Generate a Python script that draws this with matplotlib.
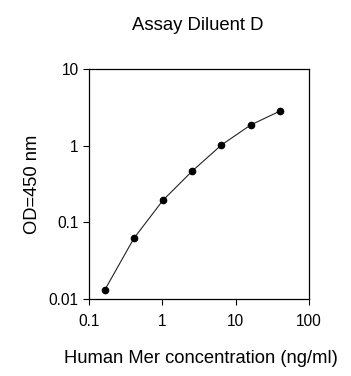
import matplotlib.pyplot as plt
from matplotlib.ticker import FixedLocator, NullLocator, FixedFormatter

plt.rcParams['font.family'] = ['Liberation Sans', 'DejaVu Sans']

conc = [0.164, 0.41, 1.024, 2.56, 6.4, 16, 40]
od = [0.0131, 0.062, 0.195, 0.467, 1.02, 1.86, 2.82]

x_ticks = [0.1, 1, 10, 100]
x_labels = ['0.1', '1', '10', '100']
y_ticks = [0.01, 0.1, 1, 10]
y_labels = ['0.01', '0.1', '1', '10']

fig = plt.figure(figsize=(3.51, 3.76), dpi=100)
ax = fig.add_axes([89/351, 1 - 299/376, 220/351, 230/376])

ax.plot(conc, od, color='#222222', lw=0.8, marker='o', ms=4.5,
        mfc='black', mec='black')

ax.set_xscale('log')
ax.set_yscale('log')
ax.set_xlim(0.1, 100)
ax.set_ylim(0.01, 10)
ax.xaxis.set_major_locator(FixedLocator(x_ticks))
ax.xaxis.set_major_formatter(FixedFormatter(x_labels))
ax.yaxis.set_major_locator(FixedLocator(y_ticks))
ax.yaxis.set_major_formatter(FixedFormatter(y_labels))
ax.xaxis.set_minor_locator(NullLocator())
ax.yaxis.set_minor_locator(NullLocator())
ax.tick_params(direction='out', length=4, width=0.8, labelsize=11.2)
ax.tick_params(axis='x', pad=7)
for s in ax.spines.values():
    s.set_linewidth(0.9)

fig.text(0.563, 0.932, 'Assay Diluent D', ha='center', va='center', fontsize=13.3)
fig.text(0.093, 0.51, 'OD=450 nm', ha='center', va='center', rotation=90, fontsize=13.2)
fig.text(0.573, 0.047, 'Human Mer concentration (ng/ml)', ha='center', va='center', fontsize=13.2)

fig.savefig('out.png', dpi=100)
